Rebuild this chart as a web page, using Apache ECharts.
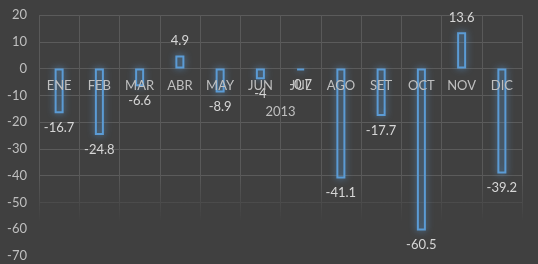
<!DOCTYPE html>
<html><head><meta charset="utf-8">
<script src="https://cdn.jsdelivr.net/npm/echarts@6/dist/echarts.min.js"></script>
<style>html,body{margin:0;padding:0;background:#404040;}#c{width:538px;height:264px;}</style>
</head><body><div id="c"></div>
<script>
const categories = ['ENE','FEB','MAR','ABR','MAY','JUN','JUL','AGO','SET','OCT','NOV','DIC'];
const values = [-16.7,-24.8,-6.6,4.9,-8.9,-4,-0.7,-41.1,-17.7,-60.5,13.6,-39.2];
const axisName = '2013';
const yMin = -70, yMax = 20, yStep = 10;

const chart = echarts.init(document.getElementById('c'));
const font = 'Lato, "Noto Sans", sans-serif';
const gridTop = 15, gridBottom = 8, H = 264;
const zeroOffset = -((H - gridTop - gridBottom) * (0 - yMin) / (yMax - yMin));
chart.setOption({
  backgroundColor:'#404040',
  animation:false,
  grid:{left:39,right:16,top:gridTop,bottom:gridBottom, outerBoundsMode:'none', containLabel:false},
  graphic:[{type:'rect', z:1, silent:true, shape:{x:39, y:175, width:484, height:85},
    style:{fill:{type:'linear', x:0, y:0, x2:0, y2:1, colorStops:[{offset:0,color:'rgba(64,64,64,0)'},{offset:0.55,color:'rgba(64,64,64,1)'},{offset:1,color:'rgba(64,64,64,1)'}]}}}],
  xAxis:[{
    type:'category', data:categories, position:'bottom',
    axisLine:{show:false, onZero:false}, axisTick:{show:false}, axisLabel:{show:false},
    splitLine:{show:true, lineStyle:{color:'#595959', width:1}}
  },{
    type:'category', data:categories, position:'bottom', offset: zeroOffset, z:10,
    axisLine:{show:false, onZero:false}, axisTick:{show:false}, splitLine:{show:false},
    axisLabel:{color:'#bfbfbf', fontSize:13, fontFamily:font, margin:11, hideOverlap:false, interval:0},
    name:axisName, nameLocation:'middle', nameGap:37,
    nameTextStyle:{color:'#bfbfbf', fontSize:13, fontFamily:font}
  }],
  yAxis:{
    type:'value', min:yMin, max:yMax, interval:yStep,
    axisLine:{show:false}, axisTick:{show:false},
    axisLabel:{color:'#bfbfbf', fontSize:13, fontFamily:font, margin:12},
    splitLine:{lineStyle:{color:'#5b5b5b'}}
  },
  series:[{
    type:'bar', barWidth:9, z:3, xAxisIndex:0,
    data: values.map(v => ({value:v, label:{position: v>=0?'top':'bottom'}})),
    itemStyle:{color:'rgba(0,0,0,0)', borderColor:'#5b9bd5', borderWidth:2, shadowBlur:7, shadowColor:'rgba(91,155,213,0.9)'},
    label:{show:true, color:'#d6d6d6', fontSize:13, fontFamily:font, distance:8, formatter: p => String(p.value)}
  }]
});
</script></body></html>
